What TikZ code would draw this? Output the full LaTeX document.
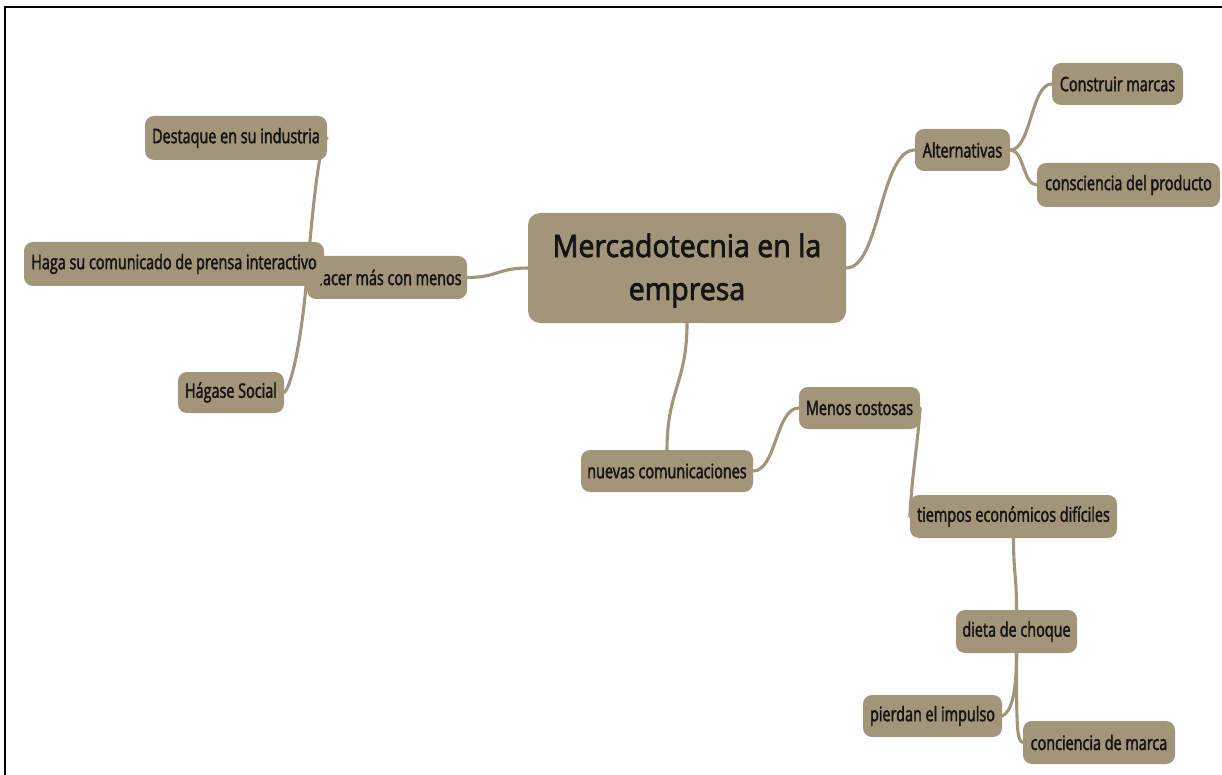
\documentclass[tikz,border=0pt]{standalone}
\usepackage{fontspec}
\setmainfont{Open Sans}
\newfontfamily\nodefont[FakeStretch=0.72,FakeBold=2]{Open Sans}
\newfontfamily\bigfont[FakeStretch=0.92,FakeBold=2.4]{Open Sans}
\definecolor{mapfill}{RGB}{163,149,121}
\definecolor{maptext}{RGB}{20,20,20}
\pgfdeclarelayer{bg}
\pgfsetlayers{bg,main}
\tikzset{
  mapbox/.style={rectangle, rounded corners=9pt, fill=mapfill, inner sep=0pt,
    text=maptext, font=\nodefont\fontsize{20}{24}\selectfont, anchor=center},
  bigbox/.style={mapbox, rounded corners=12pt, font=\bigfont\fontsize{31}{43}\selectfont,
    align=center},
  mapline/.style={draw=mapfill, line width=3.1pt, line cap=round},
  frameline/.style={draw=black, line width=2.2pt}
}
\begin{document}
\begin{tikzpicture}[x=1pt,y=-1pt]
\useasboundingbox (0,0) rectangle (1222,775);
\draw[frameline] (5,776) -- (5,7) -- (1223,7);

\node[bigbox, minimum width=318, minimum height=110, text height=71.5, text depth=7.5] (central) at (687,268)
  {Mercadotecnia en la\\empresa};

\node[mapbox, minimum width=160, minimum height=43] (hacer) at (387,277.5) {Hacer más con menos};
\node[mapbox, minimum width=300, minimum height=44] (haga) at (174,264) {Haga su comunicado de prensa interactivo};
\node[mapbox, minimum width=182, minimum height=44] (destaque) at (236,138) {Destaque en su industria};
\node[mapbox, minimum width=106, minimum height=41] (hagase) at (231,392.5) {Hágase Social};

\node[mapbox, minimum width=95, minimum height=42] (alt) at (962.5,150) {Alternativas};
\node[mapbox, minimum width=131, minimum height=42] (construir) at (1117.5,84) {Construir marcas};
\node[mapbox, minimum width=183, minimum height=44] (conscien) at (1128.5,185) {consciencia del producto};

\node[mapbox, minimum width=172, minimum height=42] (nuevas) at (667,471) {nuevas comunicaciones};
\node[mapbox, minimum width=121, minimum height=42] (menos) at (859.5,408) {Menos costosas};
\node[mapbox, minimum width=207, minimum height=43] (tiempos) at (1013.5,516.5) {tiempos económicos difíciles};
\node[mapbox, minimum width=121, minimum height=43] (dieta) at (1016.5,631.5) {dieta de choque};
\node[mapbox, minimum width=139, minimum height=42] (pierdan) at (932.5,716) {pierdan el impulso};
\node[mapbox, minimum width=152, minimum height=43] (concien) at (1099,742.5) {conciencia de marca};

\begin{pgfonlayer}{bg}
\draw[mapline] (central.west) .. controls +(-30,0) and +(30,0) .. (hacer.east);
\draw[mapline] (hacer.west) .. controls +(5,-60) and +(-8,0) .. (destaque.east);
\draw[mapline] (hacer.west) -- (haga.east);
\draw[mapline] (hacer.west) .. controls +(-6,70) and +(6,-4) .. (hagase.east);

\draw[mapline] (central.east) .. controls +(34,0) and +(-35,0) .. (alt.west);
\draw[mapline] (alt.east) .. controls +(21,0) and +(-21,0) .. (construir.west);
\draw[mapline] (alt.east) .. controls +(14,0) and +(-14,0) .. (conscien.west);

\draw[mapline] (central.south) .. controls +(0,60) and +(0,-60) .. (nuevas.north);
\draw[mapline] (nuevas.east) .. controls +(23,0) and +(-23,0) .. (menos.west);
\draw[mapline] (menos.east) .. controls +(-4,50) and +(3,-50) .. (tiempos.west);
\draw[mapline] (tiempos.south) .. controls +(0,36) and +(0,-36) .. (dieta.north);
\draw[mapline] (dieta.south) .. controls +(0,45) and +(8,-4) .. (pierdan.east);
\draw[mapline] (dieta.south) .. controls +(0,75) and +(-6,-2) .. (concien.west);
\end{pgfonlayer}
\end{tikzpicture}
\end{document}
